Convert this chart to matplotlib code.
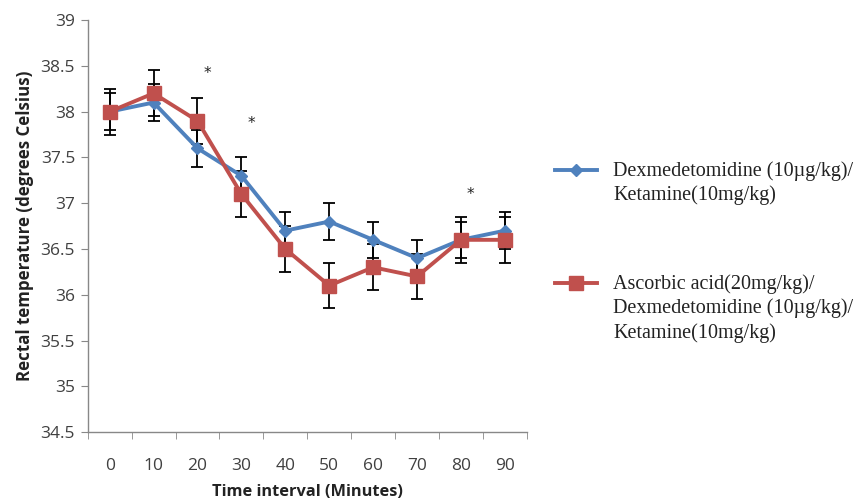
import matplotlib
matplotlib.use("Agg")
import matplotlib.pyplot as plt
from matplotlib.lines import Line2D
from matplotlib.ticker import FixedLocator, NullFormatter

time_labels = ["0", "10", "20", "30", "40", "50", "60", "70", "80", "90"]
dex_ket = [38.0, 38.1, 37.6, 37.3, 36.7, 36.8, 36.6, 36.4, 36.6, 36.7]
dex_ket_err = [0.2, 0.2, 0.2, 0.2, 0.2, 0.2, 0.2, 0.2, 0.2, 0.2]
asc_dex_ket = [38.0, 38.2, 37.9, 37.1, 36.5, 36.1, 36.3, 36.2, 36.6, 36.6]
asc_dex_ket_err = [0.25, 0.25, 0.25, 0.25, 0.25, 0.25, 0.25, 0.25, 0.25, 0.25]
star_idx = [2, 3, 8]
star_y = [38.42, 37.87, 37.1]
label_a = "Dexmedetomidine (10\u00b5g/kg)/\nKetamine(10mg/kg)"
label_b = "Ascorbic acid(20mg/kg)/\nDexmedetomidine (10\u00b5g/kg)/\nKetamine(10mg/kg)"

blue = "#4F81BD"
red = "#C0504D"

W, H = 868, 503
fig = plt.figure(figsize=(W / 100, H / 100), dpi=100)
ax = fig.add_axes([0.101, 0.141, 0.506, 0.819])

x = list(range(len(time_labels)))

ax.errorbar(x, dex_ket, yerr=dex_ket_err, fmt="none", ecolor="black",
            elinewidth=1.3, capsize=4, capthick=1.3, zorder=2)
ax.errorbar(x, asc_dex_ket, yerr=asc_dex_ket_err, fmt="none", ecolor="black",
            elinewidth=1.3, capsize=4, capthick=1.3, zorder=2)
l1, = ax.plot(x, dex_ket, color=blue, lw=2.8, marker="D", markersize=6.5,
              label=label_a, zorder=3)
l2, = ax.plot(x, asc_dex_ket, color=red, lw=2.8, marker="s", markersize=10,
              label=label_b, zorder=4)

for i, yv in zip(star_idx, star_y):
    ax.text(i + 0.22, yv, "*", ha="center", va="center", fontsize=11, color="#222222")

ax.set_xlim(-0.5, len(time_labels) - 0.5)
ax.set_ylim(34.5, 39)
ax.set_yticks([34.5 + 0.5 * k for k in range(10)])
ax.set_yticklabels([f"{34.5 + 0.5 * k:g}" for k in range(10)])
ax.set_xticks(x)
ax.set_xticklabels(time_labels)
ax.tick_params(axis="x", which="major", length=0, pad=19)
ax.xaxis.set_minor_locator(FixedLocator([i - 0.5 for i in range(len(time_labels) + 1)]))
ax.xaxis.set_minor_formatter(NullFormatter())
ax.tick_params(axis="x", which="minor", length=5, color="#888888", direction="out")
ax.tick_params(axis="y", length=5, color="#888888", direction="out", pad=4)
for lab in ax.get_xticklabels() + ax.get_yticklabels():
    lab.set_fontfamily("Open Sans")
    lab.set_fontsize(12.5)
    lab.set_color("#404040")

for s in ["top", "right"]:
    ax.spines[s].set_visible(False)
for s in ["left", "bottom"]:
    ax.spines[s].set_color("#888888")
    ax.spines[s].set_linewidth(1.0)

ax.set_xlabel("Time interval (Minutes)", fontfamily="Open Sans", fontweight="bold",
              fontsize=11.8, color="#222222", labelpad=7)
ax.set_ylabel("Rectal temperature (degrees Celsius)", fontfamily="Open Sans",
              fontweight="bold", fontsize=12.2, color="#222222", labelpad=5)

# legend (drawn as figure artists to match the layout)
entries = [(l1, label_a, 170), (l2, label_b, 283)]
for line, text, ypix in entries:
    yf = 1 - ypix / H
    fig.add_artist(Line2D([555 / W, 597 / W], [yf, yf], transform=fig.transFigure,
                          color=line.get_color(), lw=line.get_linewidth()))
    fig.add_artist(Line2D([576 / W], [yf], transform=fig.transFigure,
                          color=line.get_color(), marker=line.get_marker(),
                          markersize=line.get_markersize(), lw=0))
    fig.text(613 / W, yf + 9 / H, text, ha="left", va="top",
             fontfamily="Liberation Serif", fontsize=14.5, color="#222222",
             linespacing=1.33)

fig.savefig("out.png", dpi=100)
